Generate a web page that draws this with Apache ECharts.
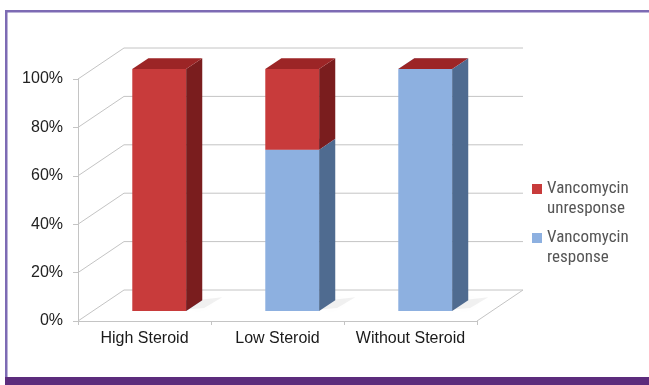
<!DOCTYPE html>
<html>
<head>
<meta charset="utf-8">
<script src="https://cdn.jsdelivr.net/npm/echarts@6/dist/echarts.min.js"></script>
<style>
  html, body { margin: 0; padding: 0; background: #ffffff; }
  #chart { width: 649px; height: 385px; }
</style>
</head>
<body>
<div id="chart"></div>
<script>
// Share of patients by steroid dose and vancomycin outcome (percent)
const categories = ['High Steroid', 'Low Steroid', 'Without Steroid'];
const responseValues = [0, 66.7, 100];
const unresponseValues = [100, 33.3, 0];
const yTicks = [0, 20, 40, 60, 80, 100];
const seriesNames = ['Vancomycin unresponse', 'Vancomycin response'];

// Oblique depth of the 3D plot box (screen px from front plane to back wall)
const DEPTH = [46, -31];
const BAR_T0 = 0.32;   // bar front face, fraction of depth
const BAR_T1 = 0.67;   // bar back face
const BAR_FRAC = 0.405; // bar width / category band

const GRID_COLOR = '#c4c4c4';

const palette = {
  unresponse: { front: '#c83b3b', side: '#7a1d1e', top: '#9c2526' },
  response:   { front: '#8db0e0', side: '#4f6b90', top: '#a9c3e8' }
};

function boxRenderer(colors, drawShadow) {
  return function (params, api) {
    const i = api.value(0);
    const base = api.value(1);
    const top = api.value(2);
    const pb = api.coord([i, base]);
    const pt = api.coord([i, top]);
    const bw = api.size([1, 0])[0] * BAR_FRAC;
    const ox = DEPTH[0] * BAR_T0, oy = DEPTH[1] * BAR_T0;
    const dx = DEPTH[0] * (BAR_T1 - BAR_T0), dy = DEPTH[1] * (BAR_T1 - BAR_T0);
    const xl = pb[0] - bw / 2 + ox, xr = pb[0] + bw / 2 + ox;
    const yb = pb[1] + oy, yt = pt[1] + oy;
    const children = [];
    if (drawShadow) {
      // soft floor shadow behind and to the right of the column
      children.push({
        type: 'polygon',
        shape: { points: [[xr - 6, yb - 1], [xr + 18, yb - 3], [xr + dx + 20, yb + dy - 3], [xr + dx - 6, yb + dy]] },
        style: { fill: 'rgba(120,120,120,0.10)', shadowBlur: 14, shadowColor: 'rgba(0,0,0,0.16)' },
        silent: true
      });
    }
    children.push({
      type: 'rect',
      shape: { x: xl, y: yt, width: xr - xl, height: yb - yt },
      style: { fill: colors.front }
    });
    children.push({
      type: 'polygon',
      shape: { points: [[xr, yt], [xr + dx, yt + dy], [xr + dx, yb + dy], [xr, yb]] },
      style: { fill: colors.side }
    });
    children.push({
      type: 'polygon',
      shape: { points: [[xl, yt], [xr, yt], [xr + dx, yt + dy], [xl + dx, yt + dy]] },
      style: { fill: colors.top }
    });
    return { type: 'group', children: children };
  };
}

// Side-wall diagonals, back-wall gridlines and the floor's right edge
function wallRenderer(params, api) {
  const cs = params.coordSys;
  const v = api.value(1);
  const y = api.coord([0, v])[1];
  const x0 = cs.x, x1 = cs.x + cs.width;
  const lineStyle = { stroke: GRID_COLOR, lineWidth: 1 };
  const children = [
    { type: 'line', shape: { x1: x0, y1: y, x2: x0 + DEPTH[0], y2: y + DEPTH[1] }, style: lineStyle },
    { type: 'line', shape: { x1: x0 + DEPTH[0], y1: y + DEPTH[1], x2: x1 + DEPTH[0], y2: y + DEPTH[1] }, style: lineStyle }
  ];
  if (v === 0) {
    children.push({ type: 'line', shape: { x1: x1, y1: y, x2: x1 + DEPTH[0], y2: y + DEPTH[1] }, style: lineStyle });
  }
  return { type: 'group', children: children, silent: true };
}

const responseData = categories.map((c, i) => [i, 0, responseValues[i]]);
const unresponseData = categories.map((c, i) => [i, responseValues[i], responseValues[i] + unresponseValues[i]]);

const chart = echarts.init(document.getElementById('chart'), null, { renderer: 'canvas' });

chart.setOption({
  animation: false,
  backgroundColor: '#ffffff',
  textStyle: { fontFamily: 'Liberation Sans, Arial, sans-serif' },
  grid: { left: 78, right: 172, top: 79, bottom: 64 },
  xAxis: {
    type: 'category',
    data: categories,
    axisLine: { show: true, lineStyle: { color: GRID_COLOR, width: 1 } },
    axisTick: { show: true, length: 4, lineStyle: { color: GRID_COLOR } },
    axisLabel: { interval: 0, color: '#1a1a1a', fontSize: 16, margin: 10, fontFamily: 'Liberation Sans' },
    splitLine: { show: false }
  },
  yAxis: {
    type: 'value',
    min: 0, max: 100, interval: 20,
    axisLine: { show: true, lineStyle: { color: GRID_COLOR, width: 1 } },
    axisTick: { show: true, length: 5, lineStyle: { color: GRID_COLOR } },
    axisLabel: { color: '#222222', fontSize: 16, margin: 15, formatter: '{value}%', fontFamily: 'Liberation Sans' },
    splitLine: { show: false }
  },
  legend: {
    orient: 'vertical',
    left: 532, top: 159,
    padding: 0,
    itemGap: -11,
    itemWidth: 10, itemHeight: 10,
    icon: 'rect',
    data: seriesNames,
    // two-line entry, first line level with the swatch
    formatter: function (name) {
      const words = name.split(' ');
      return ' \n' + words[0] + '\n' + words.slice(1).join(' ');
    },
    textStyle: {
      fontFamily: 'Liberation Sans Narrow, Roboto Condensed, DejaVu Sans Condensed, sans-serif',
      fontSize: 17, lineHeight: 20, color: '#555555'
    }
  },
  series: [
    {
      type: 'custom', name: 'walls', z: 1,
      data: yTicks.map(v => [0, v]),
      renderItem: wallRenderer,
      silent: true
    },
    {
      type: 'custom', name: seriesNames[1], z: 2,
      itemStyle: { color: palette.response.front },
      data: responseData,
      encode: { x: 0, y: [1, 2] },
      renderItem: boxRenderer(palette.response, true)
    },
    {
      type: 'custom', name: seriesNames[0], z: 3,
      itemStyle: { color: palette.unresponse.front },
      data: unresponseData,
      encode: { x: 0, y: [1, 2] },
      renderItem: boxRenderer(palette.unresponse, false)
    }
  ],
  graphic: [
    { type: 'rect', shape: { x: 5, y: 10, width: 644, height: 2.5 }, style: { fill: '#7d6bb4' }, z: 100 },
    { type: 'rect', shape: { x: 5, y: 10, width: 2.5, height: 370 }, style: { fill: '#7d6bb4' }, z: 100 },
    { type: 'rect', shape: { x: 5, y: 377, width: 644, height: 8 }, style: { fill: '#5c2c7c' }, z: 100 }
  ]
});
</script>
</body>
</html>
